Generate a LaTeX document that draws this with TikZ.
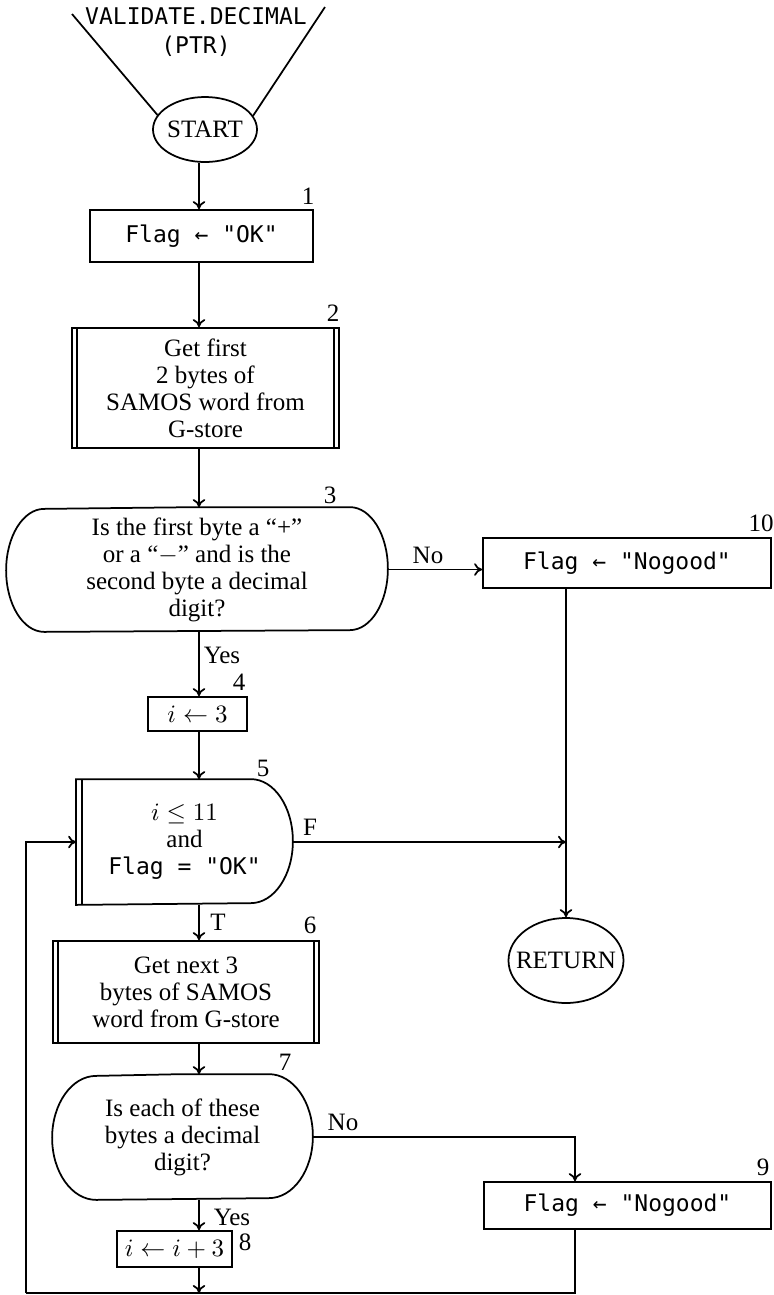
\documentclass[tikz,border=0pt]{standalone}
\usepackage{fontspec}
\setmainfont{Liberation Serif}
\setmonofont{DejaVu Sans Mono}
\usepackage{tikz}
\usetikzlibrary{positioning,shapes.geometric,arrows.meta}

\begin{document}
\begin{tikzpicture}[x=0.4pt,y=-0.4pt,
  line width=0.7pt,
  every node/.style={font=\fontsize{10}{10.8}\selectfont, inner sep=0pt},
  flow/.style={-{To[length=3.2pt,width=5pt]}},
  box/.style={draw, rectangle, align=center},
  code/.style={font=\ttfamily\fontsize{9.2}{11.6}\selectfont},
  oval/.style={draw, ellipse},
  decision/.style={rectangle, align=center}
]
\useasboundingbox (0,0) rectangle (774,1295);

% entry and start
\node[code, align=center] (title) at (196,32) {VALIDATE.DECIMAL\\(PTR)};
\node[oval, minimum width=41.6pt, minimum height=26pt] (start) at (205,129.5) {\makebox[0pt]{START}};
\coordinate (fl) at (72,14);
\coordinate (fr) at (325,7);
\draw (fl) -- (start.163);
\draw (fr) -- (start.16);

% main column
\node[box, code, minimum width=89.2pt, minimum height=20.8pt] (b1) at (201.5,236) {Flag ← "OK"};
\node[box, minimum width=106.8pt, minimum height=48pt] (b2) at (205.5,388) {Get first\\2 bytes of\\SAMOS word from\\G-store};
\node[decision, minimum width=152pt, minimum height=49.2pt] (q3) at (197,569.5) {Is the first byte a ``+''\\or a ``$-$'' and is the\\second byte a decimal\\digit?};
\node[box, minimum width=39.6pt, minimum height=13.6pt] (b4) at (197.5,714) {$i \leftarrow 3$};
\node[decision, minimum width=86pt, minimum height=49.6pt] (n5) at (184.5,842) {$i \le 11$\\and\\{\ttfamily\fontsize{9.2}{11}\selectfont Flag = "OK"}};
\node[box, minimum width=106.4pt, minimum height=40.8pt] (b6) at (186,992) {Get next 3\\bytes of SAMOS\\word from G-store};
\node[decision, minimum width=103.6pt, minimum height=49.6pt] (q7) at (182.5,1137) {Is each of these\\bytes a decimal\\digit?};
\node[box, minimum width=46pt, minimum height=14.4pt] (b8) at (174.5,1249) {$i \leftarrow i+3$};

% right column
\node[box, code, minimum width=115.2pt, minimum height=20pt] (b10) at (627,563) {Flag ← "Nogood"};
\node[oval, minimum width=46pt, minimum height=34pt] (ret) at (566,960.5) {\makebox[0pt]{RETURN}};
\node[box, code, minimum width=114.8pt, minimum height=18.8pt] (b9) at (627.5,1205.5) {Flag ← "Nogood"};

% outlines
\foreach \n in {b2,b6} {
  \draw ([xshift=2.4pt]\n.north west) -- ([xshift=2.4pt]\n.south west);
  \draw ([xshift=-2.4pt]\n.north east) -- ([xshift=-2.4pt]\n.south east);
}
\foreach \n/\r/\h in {q3/15.2pt/24.6pt, q7/17.6pt/24.8pt} {
  \draw (\n.north) -- ([xshift=-\r]\n.north east)
    arc[start angle=90, end angle=-90, x radius=\r, y radius=\h]
    -- ([xshift=\r]\n.south west)
    arc[start angle=270, end angle=90, x radius=\r, y radius=\h] -- cycle;
}
\draw (n5.north) -- ([xshift=-16.8pt]n5.north east)
  arc[start angle=90, end angle=-90, x radius=16.8pt, y radius=24.8pt]
  -- (n5.south west) -- (n5.north west) -- cycle;
\draw ([xshift=2.4pt]n5.north west) -- ([xshift=2.4pt]n5.south west);

% numbers
\node (l1) at (308,196) {1};
\node (l2) at (333,313) {2};
\node (l3) at (330,495) {3};
\node (l4) at (239,682) {4};
\node (l5) at (263,768) {5};
\node (l6) at (310,925) {6};
\node (l7) at (285,1062) {7};
\node (l8) at (245,1242) {8};
\node (l9) at (763,1167) {9};
\node (l10) at (761,523) {10};

% branch labels
\node (no3) at (428,555) {No};
\node (yes3) at (222,655) {Yes};
\node (f5) at (310,827) {F};
\node (t5) at (218,922) {T};
\node (no7) at (343,1122) {No};
\node (yes7) at (232,1217) {Yes};

% connectors
\coordinate (ax) at (199,0);
\coordinate (cl) at (26,1293);
\coordinate (cr) at (575,1293);
\draw[flow] (start.south -| ax) -- (b1.north -| ax);
\draw[flow] (b1.south -| ax) -- (b2.north -| ax);
\draw[flow] (b2.south -| ax) -- (q3.north -| ax);
\draw[flow] (q3.east) -- (q3.east -| b10.west);
\draw[flow] (q3.south -| ax) -- (b4.north -| ax);
\draw[flow] (b4.south -| ax) -- (n5.north -| ax);
\draw[flow] (b10.south -| ret) -- (ret.north);
\draw[flow] (n5.east) -- (n5.east -| ret);
\draw[flow] (n5.south -| ax) -- (b6.north -| ax);
\draw[flow] (b6.south -| ax) -- (q7.north -| ax);
\draw[flow] (q7.east) -| (b9.north -| cr);
\draw[flow] (q7.south -| ax) -- (b8.north -| ax);
\draw[flow] (b8.south -| ax) -- (ax |- cl);
\draw (b9.south -| cr) -- (cr) -- (cl);
\draw[flow] (cl) |- (n5.west);
\end{tikzpicture}
\end{document}
